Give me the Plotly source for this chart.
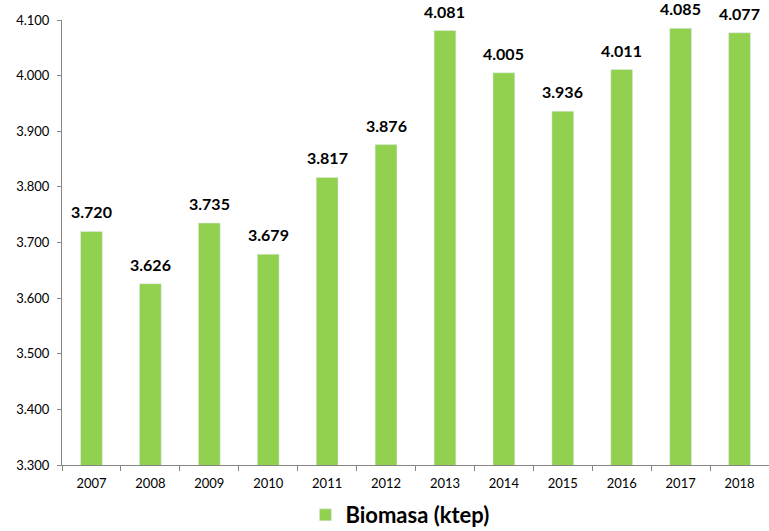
import plotly.graph_objects as go

years = ["2007", "2008", "2009", "2010", "2011", "2012",
         "2013", "2014", "2015", "2016", "2017", "2018"]
biomasa = [3720, 3626, 3735, 3679, 3817, 3876, 4081, 4005, 3936, 4011, 4085, 4077]
y_ticks = [3300, 3400, 3500, 3600, 3700, 3800, 3900, 4000, 4100]

labels = [f"{v:,}".replace(",", ".") for v in biomasa]  # Spanish thousand separator

fig = go.Figure(go.Bar(
    x=years, y=biomasa, name="Biomasa (ktep)",
    marker_color="#92D050",
))

# value labels above the bars (category axis -> position by index)
for i, (v, lab) in enumerate(zip(biomasa, labels)):
    fig.add_annotation(x=i, y=v, text=lab, showarrow=False, yanchor="bottom", yshift=8,
                       font=dict(family="Lato", size=16, color="#000000", weight="bold"))

fig.update_layout(
    width=769, height=531,
    margin=dict(l=62, r=0, t=20, b=66, autoexpand=False),
    plot_bgcolor="white", paper_bgcolor="white",
    bargap=0.63,
    separators=",.",
    showlegend=True,
    legend=dict(orientation="h", xref="container", x=0.52, xanchor="center",
                yref="container", y=0.03, yanchor="middle",
                font=dict(family="Lato", size=22, color="#000000", weight="bold")),
    font=dict(family="Lato", size=13, color="#000000"),
)
fig.update_xaxes(type="category", showline=True, linecolor="#868686", linewidth=1,
                 ticks="outside", tickson="boundaries", ticklen=5, tickcolor="#868686",
                 ticklabelstandoff=6)
fig.update_yaxes(range=[3300, 4100], tickvals=y_ticks, tickformat=",d",
                 showline=True, linecolor="#868686", linewidth=1, showgrid=False,
                 ticks="outside", ticklen=4, tickcolor="#868686", zeroline=False,
                 ticklabelstandoff=5)

# drop the browser's default 8px body margin so the figure fills the window
fig.write_html("out.html", config={"displayModeBar": False},
               post_script="document.body.style.margin='0px';")
